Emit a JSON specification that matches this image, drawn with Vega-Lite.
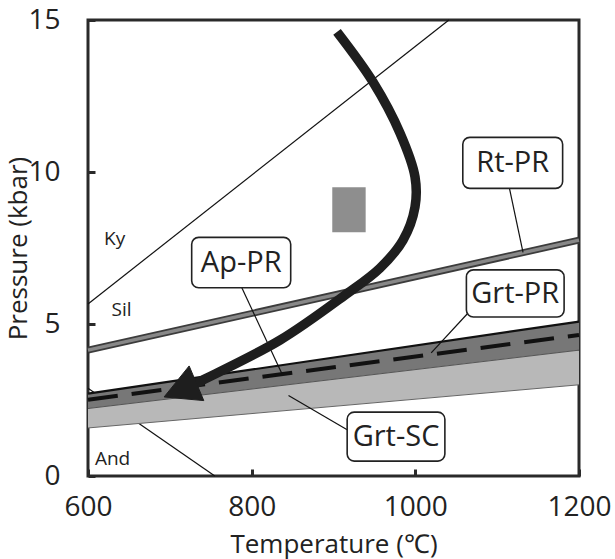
{
  "$schema": "https://vega.github.io/schema/vega-lite/v6.json",
  "width": 491,
  "height": 456,
  "autosize": {"type": "none"},
  "padding": {"left": 88, "top": 20, "right": 36, "bottom": 83},
  "background": "white",
  "config": {
    "view": {"stroke": "#2a2a2a", "strokeWidth": 3},
    "font": "Open Sans",
    "axis": {
      "domain": false,
      "grid": false,
      "ticks": true,
      "tickSize": -7,
      "tickWidth": 3,
      "tickColor": "#2a2a2a",
      "labelFont": "Open Sans",
      "labelFontSize": 28,
      "labelColor": "#222",
      "labelFlush": false,
      "labelOverlap": false,
      "titleFont": "Open Sans",
      "titleFontSize": 26,
      "titleFontWeight": "normal",
      "titleColor": "#222"
    }
  },
  "datasets": {
    "sc": [{"T": 600, "lo": 1.58, "hi": 2.22}, {"T": 1200, "lo": 3.0, "hi": 4.14}],
    "pr": [{"T": 600, "lo": 2.22, "hi": 2.71}, {"T": 1200, "lo": 4.14, "hi": 5.08}],
    "dash": [{"T": 600, "P": 2.51}, {"T": 1200, "P": 4.64}],
    "rt": [{"T": 600, "P": 4.14}, {"T": 1200, "P": 7.76}],
    "kysil": [{"T": 600, "P": 5.66}, {"T": 1041, "P": 15}],
    "andsil": [{"T": 600, "P": 2.89}, {"T": 755, "P": 0}],
    "rect": [{"T": 898.5, "T2": 939.3, "P": 8.02, "P2": 9.5}],
    "leaders": [
      {"T": 1114.9, "P": 9.48, "T2": 1131.6, "P2": 7.36},
      {"T": 787.7, "P": 6.21, "T2": 837, "P2": 3.36},
      {"T": 1064.7, "P": 5.37, "T2": 1019.4, "P2": 4.05},
      {"T": 916.7, "P": 1.52, "T2": 845, "P2": 2.65}
    ],
    "path": [
      {"i": 1, "T": 904.3, "P": 14.61},
      {"i": 2, "T": 948.3, "P": 12.96},
      {"i": 3, "T": 981.3, "P": 11.28},
      {"i": 4, "T": 999.6, "P": 9.84},
      {"i": 5, "T": 999.6, "P": 8.85},
      {"i": 6, "T": 985, "P": 7.76},
      {"i": 7, "T": 956.8, "P": 6.84},
      {"i": 8, "T": 914, "P": 5.95},
      {"i": 9, "T": 834.6, "P": 4.47},
      {"i": 10, "T": 740.5, "P": 3.16},
      {"i": 11, "T": 730.8, "P": 3.03}
    ],
    "head": [
      {"i": 1, "T": 723.6, "P": 3.62},
      {"i": 2, "T": 693, "P": 2.6},
      {"i": 3, "T": 741.5, "P": 2.48}
    ],
    "boxes": [
      {"label": "Rt-PR", "T": 1058, "T2": 1180, "P": 9.46, "P2": 11.14, "Tc": 1119, "Pc": 10.3},
      {"label": "Ap-PR", "T": 726.7, "T2": 847.7, "P": 6.19, "P2": 7.85, "Tc": 787.2, "Pc": 7.0},
      {"label": "Grt-PR", "T": 1062.4, "T2": 1181.8, "P": 5.23, "P2": 6.78, "Tc": 1122, "Pc": 5.98},
      {"label": "Grt-SC", "T": 916.7, "T2": 1036.1, "P": 0.49, "P2": 2.1, "Tc": 976.4, "Pc": 1.27}
    ],
    "regions": [
      {"label": "Ky", "T": 632.5, "P": 7.8},
      {"label": "Sil", "T": 641, "P": 5.45},
      {"label": "And", "T": 630, "P": 0.56}
    ]
  },
  "layer": [
    {
      "data": {"name": "andsil"},
      "mark": {"type": "line", "color": "#111", "strokeWidth": 1.2},
      "encoding": {
        "x": {"field": "T", "type": "quantitative", "scale": {"domain": [600, 1200], "nice": false}, "title": "Temperature (℃)",
              "axis": {"values": [600, 800, 1000, 1200], "format": "d", "labelPadding": 24, "title": "Temperature (℃)", "titlePadding": 10}},
        "y": {"field": "P", "type": "quantitative", "scale": {"domain": [0, 15], "nice": false}, "title": "Pressure (kbar)",
              "axis": {"values": [0, 5, 10, 15], "format": "d", "labelPadding": 35, "title": "Pressure (kbar)", "titlePadding": -4}}
      }
    },
    {
      "data": {"name": "sc"},
      "mark": {"type": "area", "color": "#b8b8b8", "opacity": 1},
      "encoding": {
        "x": {"field": "T", "type": "quantitative"},
        "y": {"field": "lo", "type": "quantitative"},
        "y2": {"field": "hi"}
      }
    },
    {
      "data": {"name": "sc"},
      "mark": {"type": "line", "color": "#666", "strokeWidth": 1},
      "encoding": {
        "x": {"field": "T", "type": "quantitative"},
        "y": {"field": "lo", "type": "quantitative"}
      }
    },
    {
      "data": {"name": "pr"},
      "mark": {"type": "area", "color": "#777777", "opacity": 1},
      "encoding": {
        "x": {"field": "T", "type": "quantitative"},
        "y": {"field": "lo", "type": "quantitative"},
        "y2": {"field": "hi"}
      }
    },
    {
      "data": {"name": "pr"},
      "mark": {"type": "line", "color": "#555", "strokeWidth": 1},
      "encoding": {
        "x": {"field": "T", "type": "quantitative"},
        "y": {"field": "lo", "type": "quantitative"}
      }
    },
    {
      "data": {"name": "pr"},
      "mark": {"type": "line", "color": "#111", "strokeWidth": 2.2},
      "encoding": {
        "x": {"field": "T", "type": "quantitative"},
        "y": {"field": "hi", "type": "quantitative"}
      }
    },
    {
      "data": {"name": "dash"},
      "mark": {"type": "line", "color": "#111", "strokeWidth": 4, "strokeDash": [30, 14]},
      "encoding": {
        "x": {"field": "T", "type": "quantitative"},
        "y": {"field": "P", "type": "quantitative"}
      }
    },
    {
      "data": {"name": "rt"},
      "mark": {"type": "line", "color": "#3c3c3c", "strokeWidth": 7},
      "encoding": {
        "x": {"field": "T", "type": "quantitative"},
        "y": {"field": "P", "type": "quantitative"}
      }
    },
    {
      "data": {"name": "rt"},
      "mark": {"type": "line", "color": "#888", "strokeWidth": 3.5},
      "encoding": {
        "x": {"field": "T", "type": "quantitative"},
        "y": {"field": "P", "type": "quantitative"}
      }
    },
    {
      "data": {"name": "kysil"},
      "mark": {"type": "line", "color": "#111", "strokeWidth": 1.2},
      "encoding": {
        "x": {"field": "T", "type": "quantitative"},
        "y": {"field": "P", "type": "quantitative"}
      }
    },
    {
      "data": {"name": "rect"},
      "mark": {"type": "rect", "color": "#8e8e8e"},
      "encoding": {
        "x": {"field": "T", "type": "quantitative"},
        "x2": {"field": "T2"},
        "y": {"field": "P", "type": "quantitative"},
        "y2": {"field": "P2"}
      }
    },
    {
      "data": {"name": "leaders"},
      "mark": {"type": "rule", "color": "#111", "strokeWidth": 1.2},
      "encoding": {
        "x": {"field": "T", "type": "quantitative"},
        "x2": {"field": "T2"},
        "y": {"field": "P", "type": "quantitative"},
        "y2": {"field": "P2"}
      }
    },
    {
      "data": {"name": "path"},
      "mark": {"type": "line", "color": "#1e1e1e", "strokeWidth": 9.5, "interpolate": "catmull-rom", "strokeCap": "butt"},
      "encoding": {
        "x": {"field": "T", "type": "quantitative"},
        "y": {"field": "P", "type": "quantitative"},
        "order": {"field": "i", "type": "quantitative"}
      }
    },
    {
      "data": {"name": "head"},
      "mark": {"type": "line", "color": "#1e1e1e", "fill": "#1e1e1e", "strokeWidth": 1, "interpolate": "linear-closed"},
      "encoding": {
        "x": {"field": "T", "type": "quantitative"},
        "y": {"field": "P", "type": "quantitative"},
        "order": {"field": "i", "type": "quantitative"}
      }
    },
    {
      "data": {"name": "boxes"},
      "mark": {"type": "rect", "fill": "white", "stroke": "#222", "strokeWidth": 1.6, "cornerRadius": 7},
      "encoding": {
        "x": {"field": "T", "type": "quantitative"},
        "x2": {"field": "T2"},
        "y": {"field": "P", "type": "quantitative"},
        "y2": {"field": "P2"}
      }
    },
    {
      "data": {"name": "boxes"},
      "mark": {"type": "text", "fontSize": 29, "font": "Open Sans", "color": "#222", "align": "center", "baseline": "middle"},
      "encoding": {
        "x": {"field": "Tc", "type": "quantitative"},
        "y": {"field": "Pc", "type": "quantitative"},
        "text": {"field": "label"}
      }
    },
    {
      "data": {"name": "regions"},
      "mark": {"type": "text", "fontSize": 19, "font": "Open Sans", "color": "#222", "align": "center", "baseline": "middle"},
      "encoding": {
        "x": {"field": "T", "type": "quantitative"},
        "y": {"field": "P", "type": "quantitative"},
        "text": {"field": "label"}
      }
    }
  ]
}
